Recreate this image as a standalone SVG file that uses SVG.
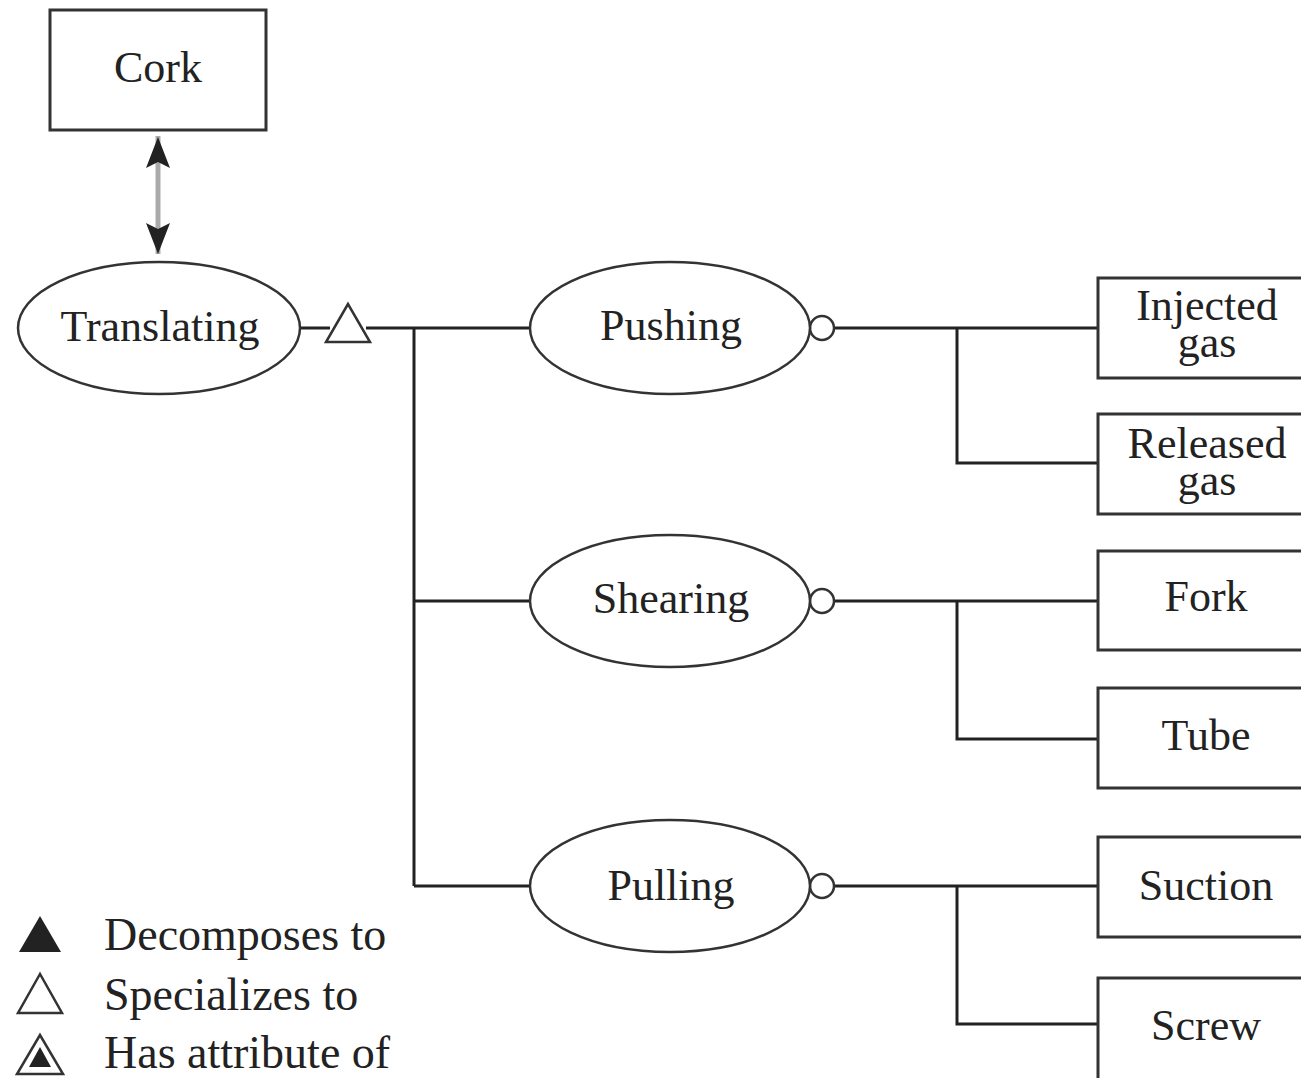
<svg xmlns="http://www.w3.org/2000/svg" width="1301" height="1078" viewBox="0 0 1301 1078">
<style>
text{font-family:"Liberation Serif","Times New Roman",serif;font-size:44px;fill:#222;text-anchor:middle}
.box{fill:#fff;stroke:#333;stroke-width:3}
.ell{fill:#fff;stroke:#333;stroke-width:2.5}
.ln{fill:none;stroke:#222;stroke-width:3}
.leg{text-anchor:start;font-size:46px}
</style>
<g id="connectors">
<line x1="158" y1="136" x2="158" y2="254" stroke="#aaa" stroke-width="5"/>
<path d="M158,137 L146,168 L158,162 L170,168 Z" fill="#222"/>
<path d="M158,254 L146,223 L158,229 L170,223 Z" fill="#222"/>
<path class="ln" d="M300,328 H330 M366,328 H530 M414,328 V886 M414,601 H530 M414,886 H530"/>
<polygon points="348,304 326,342 370,342" fill="#fff" stroke="#333" stroke-width="2.5"/>
<path class="ln" d="M834,328 H1098 M957,328 V463 H1098"/>
<path class="ln" d="M834,601 H1098 M957,601 V739 H1098"/>
<path class="ln" d="M834,886 H1098 M957,886 V1024 H1098"/>
<circle cx="822" cy="328" r="12" fill="#fff" stroke="#333" stroke-width="2.5"/>
<circle cx="822" cy="601" r="12" fill="#fff" stroke="#333" stroke-width="2.5"/>
<circle cx="822" cy="886" r="12" fill="#fff" stroke="#333" stroke-width="2.5"/>
</g>
<g id="cork"><rect class="box" x="50" y="10" width="216" height="120"/><text x="158" y="82">Cork</text></g>
<g id="translating"><ellipse class="ell" cx="159" cy="328" rx="141" ry="66"/><text x="160" y="341">Translating</text></g>
<g id="pushing"><ellipse class="ell" cx="670" cy="328" rx="140" ry="66"/><text x="671" y="340">Pushing</text></g>
<g id="shearing"><ellipse class="ell" cx="670" cy="601" rx="140" ry="66"/><text x="671" y="613">Shearing</text></g>
<g id="pulling"><ellipse class="ell" cx="670" cy="886" rx="140" ry="66"/><text x="671" y="900">Pulling</text></g>
<g id="injected"><rect class="box" x="1098" y="278" width="210" height="100"/><text x="1207" y="320">Injected</text><text x="1207" y="357">gas</text></g>
<g id="released"><rect class="box" x="1098" y="414" width="210" height="100"/><text x="1207" y="458">Released</text><text x="1207" y="495">gas</text></g>
<g id="fork"><rect class="box" x="1098" y="551" width="210" height="99"/><text x="1206" y="611">Fork</text></g>
<g id="tube"><rect class="box" x="1098" y="688" width="210" height="100"/><text x="1206" y="750">Tube</text></g>
<g id="suction"><rect class="box" x="1098" y="837" width="210" height="100"/><text x="1206" y="900">Suction</text></g>
<g id="screw"><rect class="box" x="1098" y="978" width="210" height="110"/><text x="1206" y="1040">Screw</text></g>
<g id="legend">
<polygon points="40,916 19,952 61,952" fill="#222"/>
<polygon points="40,974 18,1013 62,1013" fill="#fff" stroke="#333" stroke-width="2.5"/>
<polygon points="40,1035 17,1074 63,1074" fill="#fff" stroke="#333" stroke-width="2.5"/>
<polygon points="40,1047 29,1067 51,1067" fill="#222"/>
<text class="leg" x="104" y="950">Decomposes to</text>
<text class="leg" x="104" y="1010">Specializes to</text>
<text class="leg" x="104" y="1068">Has attribute of</text>
</g>
</svg>
